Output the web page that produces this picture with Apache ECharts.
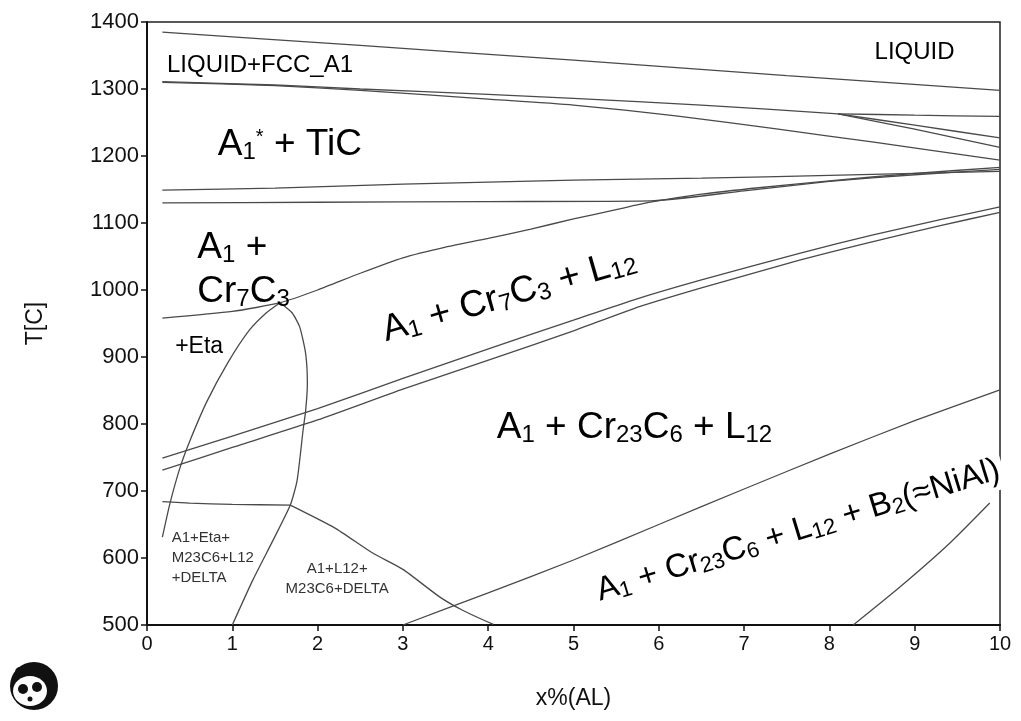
<!DOCTYPE html>
<html>
<head>
<meta charset="utf-8">
<script src="https://cdn.jsdelivr.net/npm/echarts@6/dist/echarts.min.js"></script>
<style>
html,body{margin:0;padding:0;background:#fff;}
#chart{width:1021px;height:721px;}
</style>
</head>
<body>
<div id="chart"></div>
<script>
// ---- axis ticks ----
const xTicks = [0,1,2,3,4,5,6,7,8,9,10];
const yTicks = [500,600,700,800,900,1000,1100,1200,1300,1400];

// ---- phase boundaries: [x%(AL), T(C)] ----
const liquidus = [[0.18,1385],[2.5,1365],[5,1343],[7.5,1320],[10,1298]];
const solidusUpper = [[0.18,1311],[1.5,1306],[2.5,1300],[4,1292],[5,1286],[6.5,1276],[8.1,1263]];
const branchFlat = [[8.1,1263],[9,1261],[10,1259]];
const branchMid = [[8.1,1263],[9,1246],[10,1227]];
const branchLow = [[8.1,1263],[9,1240],[10,1213]];
const solidusLower = [[0.18,1310],[1.5,1305],[2.5,1298],[4,1285],[5,1276],[6.2,1260],[7.4,1240],[8.5,1221],[10,1194]];
const tiCLineUpper = [[0.18,1149],[1.5,1152],[3,1158],[5,1164],[6.5,1167],[8,1171],[9,1174],[10,1177]];
const tiCLineLower = [[0.18,1130],[2,1131],[4,1132],[5.9,1133],[7,1148],[8,1162],[9,1172],[10,1180]];
const cr7c3Upper = [[0.18,958],[1.0,968],[1.56,981],[2.0,1000],[2.5,1025],[3.0,1048],[3.5,1064],[4.0,1077],[4.5,1091],[5.0,1106],[5.5,1120],[5.9,1131],[6.5,1143],[7.2,1153],[8,1163],[9,1174],[10,1183]];
const l12Upper = [[0.18,749],[1,782],[2,823],[3,868],[4.02,913],[5,955],[5.7,985],[6.5,1015],[7.66,1055],[8.5,1082],[9.3,1105],[10,1124]];
const l12Lower = [[0.18,731],[1,765],[2,806],[3,852],[4.02,896],[5,939],[5.7,972],[6.5,1003],[7.66,1045],[8.5,1072],[9.3,1096],[10,1116]];
const b2Line = [[3.0,500],[4,548],[5,597],[6,650],[7,703],[8,755],[9,805],[10,851]];
const lowerRight = [[8.28,500],[8.83,557],[9.41,622],[9.88,682]];
const etaLeft = [[0.18,631],[0.27,682],[0.39,736],[0.5,774],[0.7,833],[0.95,892],[1.2,940],[1.4,966],[1.56,981]];
const etaRight = [[1.56,981],[1.7,966],[1.79,945],[1.86,905],[1.88,860],[1.86,820],[1.83,791],[1.76,716],[1.68,679],[1.48,627],[1.24,567],[1.0,500]];
const deltaFlat = [[0.18,684],[0.5,682],[1.0,680],[1.68,679]];
const deltaFall = [[1.68,679],[2.2,645],[2.65,607],[3.0,583],[3.43,542],[3.7,522],[4.06,501]];

const boundaries = [liquidus, solidusUpper, branchFlat, branchMid, branchLow, solidusLower,
  tiCLineUpper, tiCLineLower, cr7c3Upper, l12Upper, l12Lower, b2Line, lowerRight,
  etaLeft, etaRight, deltaFlat, deltaFall];

// ---- region labels ----
const labelTexts = [
  {x:0.234, T:1336, text:'{m|LIQUID+FCC_A1}'},
  {x:8.53,  T:1354, text:'{m|LIQUID}'},
  {x:0.83,  T:1216, text:'{b|A}{s|1}{p|*}{b| + TiC}'},
  {x:0.59,  T:1030, text:'{b|A}{s|1}{b| +}\n{b|Cr}{s|7}{b|C}{s|3}'},
  {x:0.33,  T:916,  text:'{e|+Eta}'},
  {x:2.77,  T:938,  text:'{b|A}{s|1}{b| + Cr}{s|7}{b|C}{s|3}{b| + L}{s|12}', rot:16},
  {x:4.10,  T:794,  text:'{b|A}{s|1}{b| + Cr}{s|23}{b|C}{s|6}{b| + L}{s|12}'},
  {x:5.28,  T:549,  text:'{c|A}{t|1}{c| + Cr}{t|23}{c|C}{t|6}{c| + L}{t|12}{c| + B}{t|2}{c|(≈NiAl)}', rot:17, bg:true},
  {x:0.29,  T:600,  text:'{n|A1+Eta+}\n{n|M23C6+L12}\n{n|+DELTA}'},
  {x:2.23,  T:569,  text:'{n|A1+L12+}\n{n|M23C6+DELTA}', center:true}
];

const FONT = '"Liberation Sans", Arial, sans-serif';
const INK = '#000';
const rich = {
  b:{fontSize:37, fontFamily:FONT, color:INK, lineHeight:44},
  s:{fontSize:24, fontFamily:FONT, color:INK, padding:[14,0,0,0], lineHeight:44},
  p:{fontSize:20, fontFamily:FONT, color:INK, padding:[0,0,16,0], lineHeight:44},
  c:{fontSize:33, fontFamily:FONT, color:INK, lineHeight:40},
  t:{fontSize:22, fontFamily:FONT, color:INK, padding:[13,0,0,0], lineHeight:40},
  m:{fontSize:24, fontFamily:FONT, color:INK},
  e:{fontSize:23, fontFamily:FONT, color:INK},
  n:{fontSize:15, fontFamily:FONT, color:'#333', lineHeight:20}
};

const series = boundaries.map(d => ({
  type:'line', data:d, showSymbol:false, smooth:0.2, silent:true,
  lineStyle:{color:'#4a4a4a', width:1.3}, z:2
}));

labelTexts.forEach(l => {
  series.push({
    type:'scatter', silent:true, z:10, symbolSize:0,
    itemStyle:{opacity:1},
    data:[[l.x, l.T]],
    label:{show:true, position:'inside', formatter:l.text, rich:rich,
      color:INK, textBorderWidth:0, opacity:1,
      align: l.center ? 'center' : 'left', verticalAlign:'middle',
      rotate: l.rot || 0,
      padding: l.bg ? [0,4,0,0] : 0,
      backgroundColor: l.bg ? '#fff' : 'transparent'}
  });
});

const chart = echarts.init(document.getElementById('chart'), null, {renderer:'canvas'});
chart.setOption({
  animation:false,
  backgroundColor:'#fff',
  grid:{left:147, right:21, top:22, bottom:96, show:true, borderColor:'#222', borderWidth:1.5, backgroundColor:'transparent'},
  xAxis:{type:'value', min:xTicks[0], max:xTicks[xTicks.length-1], interval:1,
    name:'x%(AL)', nameLocation:'middle', nameGap:62,
    nameTextStyle:{fontSize:23, fontFamily:FONT, color:'#111'},
    axisLine:{show:true, lineStyle:{color:'#111', width:2}},
    axisTick:{show:true, length:6, lineStyle:{color:'#111', width:1.5}},
    axisLabel:{fontSize:20, fontFamily:FONT, color:'#111', margin:9, formatter:v => String(v)},
    splitLine:{show:false}},
  yAxis:{type:'value', min:yTicks[0], max:yTicks[yTicks.length-1], interval:100,
    name:'T[C]', nameLocation:'middle', nameGap:100, nameRotate:90,
    nameTextStyle:{fontSize:23, fontFamily:FONT, color:'#111'},
    axisLine:{show:true, lineStyle:{color:'#111', width:2}},
    axisTick:{show:true, length:6, lineStyle:{color:'#111', width:1.5}},
    axisLabel:{fontSize:22, fontFamily:FONT, color:'#111', margin:8, formatter:v => String(v)},
    splitLine:{show:false}},
  graphic:[{
    type:'group', left:10, top:662, silent:true,
    children:[
      {type:'circle', shape:{cx:26, cy:28, r:24}, style:{fill:'#111'}},
      {type:'ellipse', shape:{cx:22, cy:33, rx:17, ry:15}, style:{fill:'#fff'}},
      {type:'circle', shape:{cx:15, cy:31, r:5}, style:{fill:'#111'}},
      {type:'circle', shape:{cx:29, cy:29, r:5}, style:{fill:'#111'}},
      {type:'circle', shape:{cx:22, cy:41, r:2.5}, style:{fill:'#111'}},
      {type:'circle', shape:{cx:12, cy:14, r:5}, style:{fill:'#111'}}
    ]
  }],
  series:series
});
</script>
</body>
</html>
